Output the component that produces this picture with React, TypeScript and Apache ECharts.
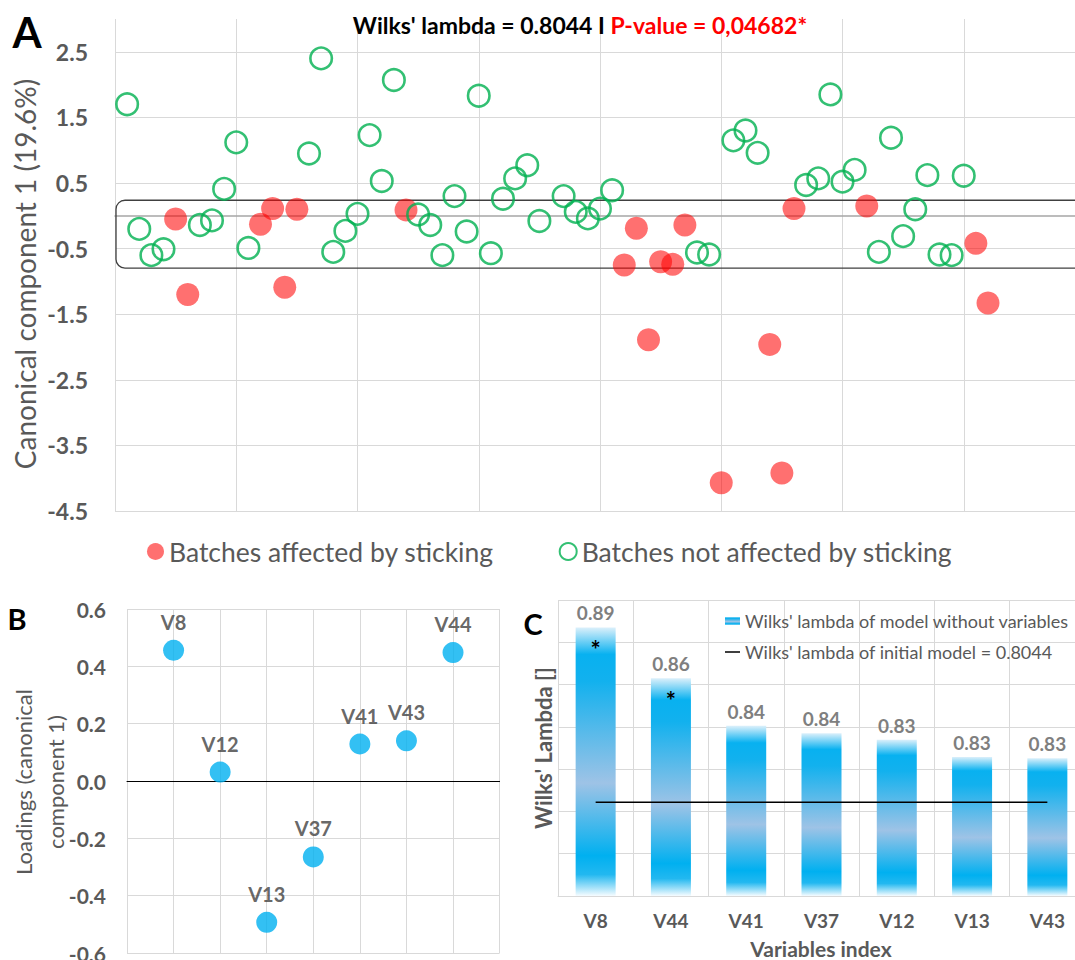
import React, { useEffect, useRef } from "react";
import * as echarts from "echarts";

// ---------- Panel A data ----------
const affectedBatch = [5, 6, 12, 13, 14, 15, 24, 42, 43, 44, 45, 46, 47, 50, 54, 55, 56, 62, 71, 72];
const affectedScore = [-0.05, -1.2, -0.13, 0.11, -1.09, 0.1, 0.09, -0.75, -0.19, -1.89, -0.7, -0.74, -0.14, -4.07, -1.96, -3.92, 0.11, 0.15, -0.42, -1.33];
const okBatch = [1, 2, 3, 4, 7, 8, 9, 10, 11, 16, 17, 18, 19, 20, 21, 22, 23, 25, 26, 27, 28, 29, 30, 31, 32, 33, 34, 35, 37, 38, 39, 40, 41, 48, 49, 51, 52, 53, 57, 58, 59, 60, 61, 63, 64, 65, 66, 67, 68, 69, 70];
const okScore = [1.7, -0.2, -0.6, -0.51, -0.14, -0.07, 0.41, 1.12, -0.49, 0.95, 2.4, -0.55, -0.23, 0.03, 1.23, 0.53, 2.07, 0.02, -0.14, -0.6, 0.3, -0.24, 1.83, -0.57, 0.26, 0.57, 0.77, -0.08, 0.3, 0.06, -0.04, 0.11, 0.39, -0.56, -0.59, 1.15, 1.3, 0.96, 0.47, 0.57, 1.85, 0.52, 0.7, -0.55, 1.19, -0.31, 0.1, 0.62, -0.59, -0.6, 0.61];
const stickingBand = [-0.798, 0.237];
const seriesAffected = "Batches affected by sticking";
const seriesOk = "Batches not affected by sticking";

// ---------- Panel B data ----------
const loadingVars = ["V8", "V12", "V13", "V37", "V41", "V43", "V44"];
const loadingPos = [1, 2, 3, 4, 5, 6, 7];
const loadings = [0.456, 0.031, -0.493, -0.265, 0.129, 0.14, 0.448];

// ---------- Panel C data ----------
const wilksVars = ["V8", "V44", "V41", "V37", "V12", "V13", "V43"];
const wilksValues = [0.887, 0.863, 0.8405, 0.837, 0.8339, 0.8258, 0.8252];
const wilksSignificant = [true, true, false, false, false, false, false];
const initialLambda = 0.8044;
const barSeriesName = "Wilks' lambda of model without variables";
const lineSeriesName = "Wilks' lambda of initial model = 0.8044";

const GRID = "#D9D9D9";
const AXT = "#595959";
const FONT = "Lato";

const barGradient = {
  type: "linear",
  x: 0,
  y: 0,
  x2: 0,
  y2: 1,
  colorStops: [
    { offset: 0, color: "#dcf0fb" },
    { offset: 0.1, color: "#08b1f0" },
    { offset: 0.2, color: "#12b1ee" },
    { offset: 0.58, color: "#9ec3e6" },
    { offset: 0.85, color: "#00b0f0" },
    { offset: 0.92, color: "#22b8f0" },
    { offset: 1, color: "#f7fcff" },
  ],
};

// thin horizontal bar icon with invisible corner specks to keep the full icon box
const lineIcon = "path://M0,0L0.01,0L0,0.01Z M0,3.3H15V4.7H0Z M15,8L14.99,8L15,7.99Z";

export default function App() {
  const ref = useRef<HTMLDivElement>(null);

  useEffect(() => {
    document.body.style.margin = "0";
    if (!ref.current) return;
    const chart = echarts.init(ref.current, null, { renderer: "svg" });

    const option: any = {
      animation: false,
      textStyle: { fontFamily: FONT },
      title: {
        text: "{b|Wilks' lambda = 0.8044 I }{r|P-value = 0,04682*}",
        left: 580,
        top: 13,
        padding: 0,
        textAlign: "center",
        textStyle: {
          rich: {
            b: { fontFamily: FONT, fontWeight: "bold", fontSize: 23, color: "#000" },
            r: { fontFamily: FONT, fontWeight: "bold", fontSize: 23, color: "#FF0000" },
          },
        },
      },
      grid: [
        { left: 115, top: 19, width: 970, height: 492, containLabel: false, outerBoundsMode: "none" },
        { left: 127, top: 609, width: 372.6, height: 344, containLabel: false, outerBoundsMode: "none" },
        { left: 558, top: 600, width: 527, height: 296, containLabel: false, outerBoundsMode: "none" },
      ],
      legend: [
        {
          data: [seriesAffected, seriesOk],
          left: 147,
          top: 538,
          padding: 0,
          itemWidth: 17,
          itemHeight: 17,
          itemGap: 65,
          icon: "circle",
          textStyle: { fontFamily: FONT, fontSize: 26.5, color: AXT },
        },
        {
          data: [
            { name: barSeriesName, icon: "rect" },
            { name: lineSeriesName, icon: lineIcon, itemStyle: { color: "#000" } },
          ],
          orient: "vertical",
          left: 725,
          top: 611,
          padding: 0,
          itemWidth: 15,
          itemHeight: 8,
          itemGap: 11,
          textStyle: { fontFamily: FONT, fontSize: 18, color: AXT, lineHeight: 20 },
        },
      ],
      xAxis: [
        {
          gridIndex: 0,
          type: "value",
          min: 0,
          max: 80,
          interval: 10,
          axisLine: { show: true, onZero: true, lineStyle: { color: "#A6A6A6", width: 1.5 } },
          axisTick: { show: false },
          axisLabel: { show: false },
          splitLine: { show: true, lineStyle: { color: GRID } },
        },
        {
          gridIndex: 1,
          type: "value",
          min: 0,
          max: 8,
          interval: 1,
          axisLine: { show: true, onZero: true, lineStyle: { color: "#000", width: 1 } },
          axisTick: { show: false },
          axisLabel: { show: false },
          splitLine: { show: true, lineStyle: { color: GRID } },
        },
        {
          gridIndex: 2,
          type: "category",
          data: wilksVars,
          axisLine: { show: true, lineStyle: { color: GRID } },
          axisTick: { show: false },
          axisLabel: { fontFamily: FONT, fontWeight: "bold", fontSize: 19, color: AXT, margin: 15 },
          splitLine: { show: true, lineStyle: { color: GRID } },
        },
      ],
      yAxis: [
        {
          gridIndex: 0,
          type: "value",
          min: -4.5,
          max: 3,
          interval: 1,
          axisLine: { show: false },
          axisTick: { show: false },
          axisLabel: {
            fontFamily: FONT,
            fontWeight: "bold",
            fontSize: 23,
            color: AXT,
            margin: 27,
            showMaxLabel: false,
            formatter: (v: number) => v.toFixed(1),
          },
          splitLine: {
            show: true,
            lineStyle: { color: [GRID, GRID, GRID, GRID, GRID, GRID, GRID, GRID, "rgba(0,0,0,0)"] },
          },
        },
        {
          gridIndex: 1,
          type: "value",
          min: -0.6,
          max: 0.6,
          interval: 0.2,
          axisLine: { show: false },
          axisTick: { show: false },
          axisLabel: {
            fontFamily: FONT,
            fontWeight: "bold",
            fontSize: 21,
            color: AXT,
            margin: 21,
            formatter: (v: number) => v.toFixed(1),
          },
          splitLine: { show: true, lineStyle: { color: GRID } },
        },
        {
          gridIndex: 2,
          type: "value",
          min: 0.76,
          max: 0.9,
          interval: 0.02,
          axisLine: { show: false },
          axisTick: { show: false },
          axisLabel: { show: false },
          splitLine: { show: true, lineStyle: { color: GRID } },
        },
      ],
      series: [
        {
          name: seriesAffected,
          type: "scatter",
          xAxisIndex: 0,
          yAxisIndex: 0,
          symbol: "circle",
          symbolSize: 23,
          itemStyle: { color: "rgba(255,0,0,0.7)" },
          data: affectedBatch.map((b, i) => [b, affectedScore[i]]),
        },
        {
          name: seriesOk,
          type: "scatter",
          xAxisIndex: 0,
          yAxisIndex: 0,
          symbol: "circle",
          symbolSize: 21.5,
          itemStyle: { color: "rgba(255,255,255,0)", borderColor: "#00B050", borderWidth: 2.6 },
          data: okBatch.map((b, i) => [b, okScore[i]]),
        },
        {
          name: "Loadings",
          type: "scatter",
          xAxisIndex: 1,
          yAxisIndex: 1,
          symbol: "circle",
          symbolSize: 21,
          itemStyle: { color: "#00B0F0" },
          label: {
            show: true,
            position: "top",
            distance: 8,
            formatter: (p: any) => p.name,
            fontFamily: FONT,
            fontWeight: "bold",
            fontSize: 20,
            color: "#404040",
          },
          data: loadingVars.map((n, i) => ({ name: n, value: [loadingPos[i], loadings[i]] })),
        },
        {
          name: barSeriesName,
          type: "bar",
          xAxisIndex: 2,
          yAxisIndex: 2,
          barWidth: 40,
          itemStyle: { color: barGradient },
          label: {
            show: true,
            position: "top",
            distance: 5,
            formatter: (p: any) => Number(p.value).toFixed(2),
            fontFamily: FONT,
            fontWeight: "bold",
            fontSize: 19,
            color: "#7F7F7F",
          },
          data: wilksValues,
        },
        {
          name: "significance",
          type: "bar",
          xAxisIndex: 2,
          yAxisIndex: 2,
          barWidth: 40,
          barGap: "-100%",
          itemStyle: { color: "rgba(0,0,0,0)" },
          label: {
            show: true,
            position: "insideTop",
            distance: 10,
            formatter: (p: any) => (wilksSignificant[p.dataIndex] ? "*" : ""),
            fontFamily: FONT,
            fontWeight: "bold",
            fontSize: 24,
            color: "#000",
          },
          data: wilksValues,
        },
        {
          name: lineSeriesName,
          type: "line",
          xAxisIndex: 2,
          yAxisIndex: 2,
          symbol: "none",
          lineStyle: { color: "#000", width: 1.5 },
          itemStyle: { color: "#000" },
          data: wilksVars.map(() => initialLambda),
          z: 5,
        },
      ],
    };

    chart.setOption(option);

    const tl = chart.convertToPixel({ gridIndex: 0 }, [0, stickingBand[1]]) as number[];
    const br = chart.convertToPixel({ gridIndex: 0 }, [80, stickingBand[0]]) as number[];

    const txt = (id: string, x: number, y: number, text: string, size: number, weight: string, color: string, rotation = 0, lineHeight?: number) => ({
      type: "text",
      id,
      x,
      y,
      rotation,
      z: 10,
      style: {
        text,
        fill: color,
        fontFamily: FONT,
        fontSize: size,
        fontWeight: weight,
        lineHeight: lineHeight,
        align: "center",
        verticalAlign: "middle",
        textAlign: "center",
        textVerticalAlign: "middle",
      },
    });

    chart.setOption({
      graphic: [
        {
          type: "rect",
          id: "band",
          z: 1,
          shape: { x: tl[0] + 1, y: tl[1], width: br[0] + 30 - tl[0], height: br[1] - tl[1], r: 9 },
          style: { fill: "none", stroke: "#404040", lineWidth: 1.3 },
        },
        txt("lblA", 27, 32, "A", 42, "bold", "#000"),
        txt("lblB", 17, 618, "B", 29, "bold", "#000"),
        txt("lblC", 533, 623, "C", 29, "bold", "#000"),
        txt("ytA", 25, 274, "Canonical component 1 (19.6%)", 28, "normal", AXT, Math.PI / 2),
        txt("ytB", 39, 782, "Loadings (canonical\ncomponent 1)", 22, "normal", AXT, Math.PI / 2, 32),
        txt("ytC", 543, 748, "Wilks' Lambda []", 22, "bold", AXT, Math.PI / 2),
        txt("xtC", 821, 948, "Variables index", 21, "bold", AXT),
      ],
    });

    return () => chart.dispose();
  }, []);

  return <div ref={ref} style={{ width: 1075, height: 960 }} />;
}
